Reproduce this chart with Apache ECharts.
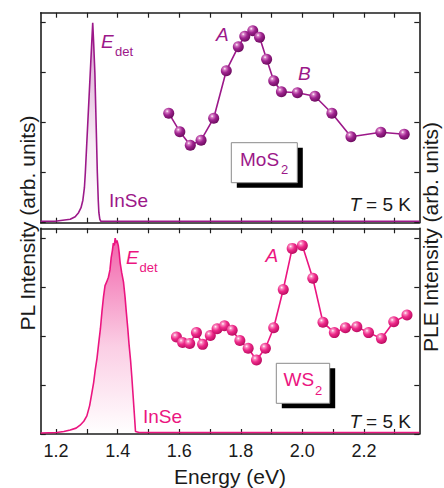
<!DOCTYPE html>
<html><head><meta charset="utf-8">
<script src="https://cdn.jsdelivr.net/npm/echarts@6/dist/echarts.min.js"></script>
<style>html,body{margin:0;padding:0;background:#fff}#c{width:444px;height:488px}</style>
</head><body><div id="c"></div>
<script>
// ---------- data ----------
const xTickValues = [1.2,1.3,1.4,1.5,1.6,1.7,1.8,1.9,2.0,2.1,2.2,2.3];
const xLabelValues = [1.2,1.4,1.6,1.8,2.0,2.2];
const yTickValues = [0,1,2,3,4];

// PL of InSe (top panel, MoS2 sample)
const plTop = [[1.15,0.03],[1.197,0.03],[1.246,0.07],[1.262,0.12],[1.273,0.2],[1.281,0.3],[1.287,0.45],[1.292,0.7],[1.295,1.0],[1.299,1.5],[1.303,2.0],[1.307,2.5],[1.311,3.0],[1.315,3.5],[1.319,4.0],[1.322,3.6],[1.326,3.0],[1.330,2.0],[1.334,1.0],[1.337,0.45],[1.339,0.2],[1.342,0.07],[1.345,0.03],[1.5,0.03],[2.38,0.03]];
// PLE of MoS2
const pleTopEnergy = [1.566,1.602,1.636,1.671,1.712,1.753,1.792,1.813,1.839,1.861,1.884,1.907,1.932,1.984,2.041,2.096,2.158,2.255,2.331];
const pleTopValue  = [2.19,1.82,1.55,1.65,2.09,3.04,3.52,3.73,3.84,3.71,3.27,2.84,2.62,2.60,2.53,2.19,1.72,1.81,1.77];

// PL of InSe (bottom panel, WS2 sample)
const plBottom = [[1.15,0.02],[1.202,0.03],[1.225,0.05],[1.246,0.08],[1.265,0.12],[1.278,0.18],[1.290,0.26],[1.300,0.37],[1.309,0.58],[1.316,0.83],[1.322,1.05],[1.327,1.3],[1.333,1.55],[1.338,1.83],[1.344,2.15],[1.349,2.5],[1.354,2.8],[1.359,3.03],[1.364,3.1],[1.370,3.2],[1.375,3.35],[1.379,3.6],[1.383,3.75],[1.386,3.9],[1.389,3.85],[1.392,4.0],[1.395,3.9],[1.398,3.95],[1.402,3.85],[1.405,3.7],[1.408,3.5],[1.413,3.3],[1.419,3.1],[1.424,2.8],[1.428,2.5],[1.433,2.15],[1.437,1.83],[1.442,1.5],[1.446,1.17],[1.450,0.8],[1.454,0.43],[1.458,0.05],[1.47,0.03],[2.38,0.03]];
// PLE of WS2
const pleBottomEnergy = [1.591,1.611,1.634,1.656,1.676,1.701,1.723,1.747,1.772,1.797,1.824,1.851,1.880,1.907,1.938,1.967,2.000,2.034,2.067,2.104,2.140,2.177,2.215,2.257,2.297,2.340];
const pleBottomValue  = [1.98,1.87,1.85,2.07,1.83,2.01,2.15,2.21,2.12,1.91,1.75,1.51,1.75,2.17,2.95,3.79,3.85,3.18,2.28,2.07,2.17,2.19,2.07,1.95,2.29,2.43];

// ---------- styles ----------
const FONT = "'Liberation Sans', Arial, Helvetica, sans-serif";
const PURPLE = '#9c1889';
const PINK = '#eb1580';
const AX = '#1e1e1e';

function sphere(light, mid, dark) {
  return {type:'radial', x:0.36, y:0.32, r:0.72, colorStops:[
    {offset:0, color:'#ffffff'},{offset:0.18, color:light},{offset:0.5, color:mid},{offset:1, color:dark}]};
}
function pairs(xs, ys){ return xs.map((x,i)=>[x, ys[i]]); }

const XMIN = 1.15, XMAX = 2.38, YMIN = 0, YMAX = 4.2;
const grids = [
  {left:40.7, top:12.7, width:378.6, height:210},
  {left:40.7, top:228.3, width:378.6, height:210}
];
function xAx(gi, pos, withLabels){
  return {type:'value', gridIndex:gi, position:pos, min:XMIN, max:XMAX,
    axisLine:{show:true, onZero:false, lineStyle:{color:AX, width:1.6}},
    axisTick:{show:true, inside:true, length:5, customValues:xTickValues, lineStyle:{color:AX, width:1.2}},
    axisLabel: withLabels ? {show:true, customValues:xLabelValues, formatter:v=>v.toFixed(1), fontSize:18, fontFamily:FONT, color:'#1a1a1a', margin:8} : {show:false},
    splitLine:{show:false},
    name: withLabels ? 'Energy (eV)' : '', nameLocation:'middle', nameGap:32,
    nameTextStyle:{fontSize:21, fontFamily:FONT, color:'#1a1a1a'}
  };
}
function yAx(gi, pos){
  return {type:'value', gridIndex:gi, position:pos, min:YMIN, max:YMAX,
    axisLine:{show:true, onZero:false, lineStyle:{color:AX, width:1.6}},
    axisTick:{show:true, inside:true, length:5, customValues:yTickValues, lineStyle:{color:AX, width:1.2}},
    axisLabel:{show:false}, splitLine:{show:false}};
}

function txt(x, y, text, color, size, opts){
  opts = opts || {};
  return {type:'text', x:x, y:y, rotation:opts.rot||0, z:100,
    style:{text:text, fill:color, fontSize:size, fontFamily:FONT, fontStyle:opts.italic?'italic':'normal',
      align:opts.align||'left', verticalAlign:'middle'}};
}
function box(x, y, w, h){
  return [
    {type:'rect', shape:{x:x+5.5, y:y+5, width:w, height:h}, style:{fill:'#000'}, z:90},
    {type:'rect', shape:{x:x, y:y, width:w, height:h}, style:{fill:'#fff', stroke:'#8a8a8a', lineWidth:1}, z:91}
  ];
}

const graphic = [].concat(
  txt(27, 223, 'PL Intensity (arb. units)', '#1a1a1a', 21, {rot:Math.PI/2, align:'center'}),
  txt(430, 237, 'PLE Intensity (arb. units)', '#1a1a1a', 21, {rot:Math.PI/2, align:'center'}),
  // top panel
  txt(101, 41, 'E', PURPLE, 19, {italic:true}),
  txt(115, 51, 'det', PURPLE, 13),
  txt(109, 200, 'InSe', PURPLE, 19),
  txt(216, 34, 'A', PURPLE, 19, {italic:true}),
  txt(298, 73, 'B', PURPLE, 19, {italic:true}),
  box(231.3, 142.7, 66, 40),
  txt(240, 159.5, 'MoS', PURPLE, 19),
  txt(281, 169.5, '2', PURPLE, 13),
  txt(349.5, 204.5, 'T', '#1a1a1a', 19, {italic:true}),
  txt(411, 204.5, ' = 5 K', '#1a1a1a', 19, {align:'right'}),
  // bottom panel
  txt(126, 257.5, 'E', PINK, 19, {italic:true}),
  txt(139.5, 267, 'det', PINK, 13),
  txt(143, 416.5, 'InSe', PINK, 19),
  txt(265.5, 255.5, 'A', PINK, 19, {italic:true}),
  box(276.3, 363.3, 53.4, 40),
  txt(283.5, 379.5, 'WS', PINK, 19),
  txt(315, 390, '2', PINK, 13),
  txt(349.5, 421, 'T', '#1a1a1a', 19, {italic:true}),
  txt(411, 421, ' = 5 K', '#1a1a1a', 19, {align:'right'})
);

const chart = echarts.init(document.getElementById('c'), null, {renderer:'svg'});
chart.setOption({
  animation:false,
  backgroundColor:'#fff',
  textStyle:{fontFamily:FONT},
  grid: grids,
  xAxis:[xAx(0,'bottom',false), xAx(0,'top',false), xAx(1,'bottom',true), xAx(1,'top',false)],
  yAxis:[yAx(0,'left'), yAx(0,'right'), yAx(1,'left'), yAx(1,'right')],
  series:[
    {type:'line', xAxisIndex:0, yAxisIndex:0, data:plTop, showSymbol:false, symbol:'none', z:2,
      lineStyle:{color:PURPLE, width:1.6},
      areaStyle:{origin:'start', color:{type:'linear', x:0, y:0, x2:0, y2:1, colorStops:[
        {offset:0, color:'rgba(156,24,137,0.6)'},{offset:0.6, color:'rgba(156,24,137,0.12)'},{offset:1, color:'rgba(156,24,137,0)'}]}}},
    {type:'line', xAxisIndex:0, yAxisIndex:1, data:pairs(pleTopEnergy, pleTopValue), z:5,
      symbol:'circle', symbolSize:11, showAllSymbol:true,
      lineStyle:{color:PURPLE, width:1.6},
      itemStyle:{color:sphere('#d67cc4', '#a02490', '#6a0a5c')}},
    {type:'line', xAxisIndex:2, yAxisIndex:2, data:plBottom, showSymbol:false, symbol:'none', z:2,
      lineStyle:{color:PINK, width:1.6},
      areaStyle:{origin:'start', color:{type:'linear', x:0, y:0, x2:0, y2:1, colorStops:[
        {offset:0, color:'rgba(235,21,128,0.95)'},{offset:0.55, color:'rgba(235,21,128,0.3)'},{offset:1, color:'rgba(235,21,128,0)'}]}}},
    {type:'line', xAxisIndex:2, yAxisIndex:3, data:pairs(pleBottomEnergy, pleBottomValue), z:5,
      symbol:'circle', symbolSize:11, showAllSymbol:true,
      lineStyle:{color:PINK, width:1.6},
      itemStyle:{color:sphere('#f98cc0', '#ee2a8a', '#b80a5e')}}
  ],
  graphic: graphic
});
</script>
</body></html>
